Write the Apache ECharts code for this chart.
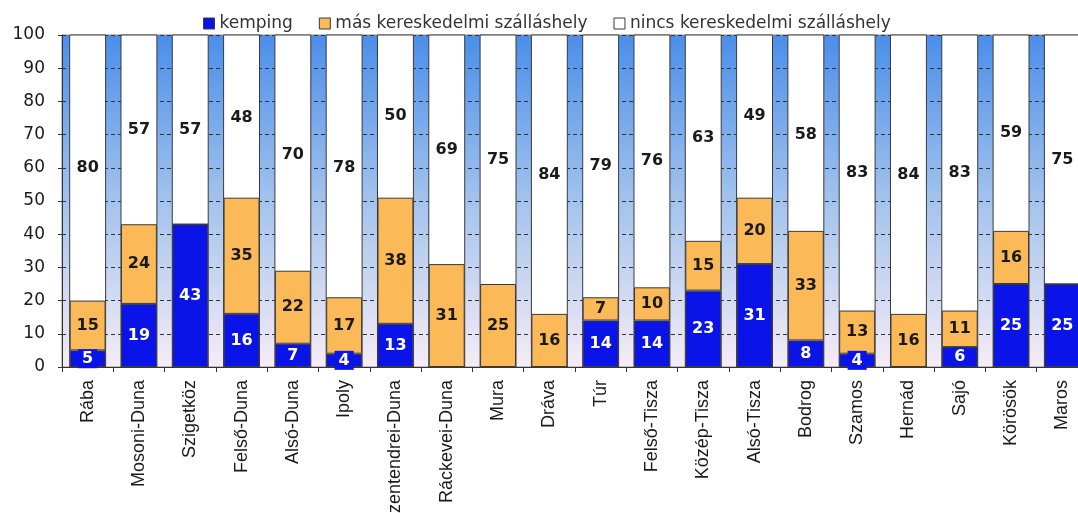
<!DOCTYPE html>
<html>
<head>
<meta charset="utf-8">
<script src="https://cdn.jsdelivr.net/npm/echarts@6/dist/echarts.min.js"></script>
<style>
html,body{margin:0;padding:0;background:#fff;}
#chart{width:1078px;height:513px;}
</style>
</head>
<body>
<div id="chart"></div>
<script>
const categories = ['Rába','Mosoni-Duna','Szigetköz','Felső-Duna','Alsó-Duna','Ipoly','Szentendrei-Duna','Ráckevei-Duna','Mura','Dráva','Túr','Felső-Tisza','Közép-Tisza','Alsó-Tisza','Bodrog','Szamos','Hernád','Sajó','Körösök','Maros'];
const kemping = [5,19,43,16,7,4,13,0,0,0,14,14,23,31,8,4,0,6,25,25];
const masKer = [15,24,0,35,22,17,38,31,25,16,7,10,15,20,33,13,16,11,16,0];
const nincsKer = [80,57,57,48,70,78,50,69,75,84,79,76,63,49,58,83,84,83,59,75];
const seriesNames = ['kemping','más kereskedelmi szálláshely','nincs kereskedelmi szálláshely'];
const yTicks = [0,10,20,30,40,50,60,70,80,90,100];

const colors = ['#0a14e8','#fbb957','rgba(255,255,255,0)'];
const legendColors = ['#0a14e8','#fbb957','#ffffff'];
const labelBg = ['#0a14e8','#fbb957','#ffffff'];
const labelColors = ['#ffffff','#1a1a1a','#1a1a1a'];
const FONT = '"Liberation Sans", Arial, sans-serif';
const WFONT = '"DejaVu Sans", sans-serif';

function mkData(arr){
  return arr.map(v => v > 0 ? {value:v} : {value:v, label:{show:false}});
}

const chart = echarts.init(document.getElementById('chart'));
const series = [kemping, masKer, nincsKer].map((arr, i) => ({
  name: seriesNames[i],
  type: 'bar',
  stack: 'total',
  barCategoryGap: '30%',
  data: mkData(arr),
  showBackground: i === 0,
  backgroundStyle: {color: '#ffffff', borderColor: '#3a3a3a', borderWidth: 1},
  itemStyle: {color: colors[i], borderColor: '#3a3a3a', borderWidth: i === 2 ? 0 : 1},
  label: {
    show: true,
    position: 'inside',
    color: labelColors[i],
    fontFamily: WFONT,
    fontWeight: 'bold',
    fontSize: 16,
    backgroundColor: labelBg[i],
    padding: [2, 4, 1, 4]
  },
  emphasis: {disabled: true}
}));

chart.setOption({
  animation: false,
  color: legendColors,
  legend: {
    top: 10,
    left: 198,
    itemWidth: 11,
    itemHeight: 11,
    itemGap: 26,
    icon: 'rect',
    textStyle: {fontFamily: WFONT, fontSize: 17, color: '#333'},
    data: seriesNames.map((n, i) => ({name: n, itemStyle: {color: legendColors[i], borderColor: '#3a3a3a', borderWidth: 1}}))
  },
  grid: {
    left: 62, top: 35, width: 1026, height: 332,
    outerBoundsMode: 'none',
    containLabel: false,
    show: true,
    borderWidth: 1,
    borderColor: '#8a8a8a',
    backgroundColor: {
      type: 'linear', x: 0, y: 0, x2: 0, y2: 1,
      colorStops: [
        {offset: 0, color: '#4a8eea'},
        {offset: 0.5, color: '#a3c3ed'},
        {offset: 1, color: '#f6ecf6'}
      ]
    }
  },
  xAxis: {
    type: 'category',
    data: categories,
    axisLine: {lineStyle: {color: '#333', width: 1}},
    axisTick: {show: true, length: 5, lineStyle: {color: '#333'}},
    axisLabel: {rotate: 90, interval: 0, fontFamily: FONT, fontSize: 18, color: '#1a1a1a', margin: 13}
  },
  yAxis: {
    type: 'value',
    min: yTicks[0],
    max: yTicks[yTicks.length - 1],
    interval: yTicks[1] - yTicks[0],
    axisLine: {show: true, lineStyle: {color: '#333'}},
    axisTick: {show: true, length: 4, lineStyle: {color: '#333'}},
    axisLabel: {fontFamily: WFONT, fontSize: 17, color: '#1a1a1a', margin: 17},
    splitLine: {show: true, lineStyle: {color: '#333', type: [4, 3], width: 1}}
  },
  series: series
});
</script>
</body>
</html>
